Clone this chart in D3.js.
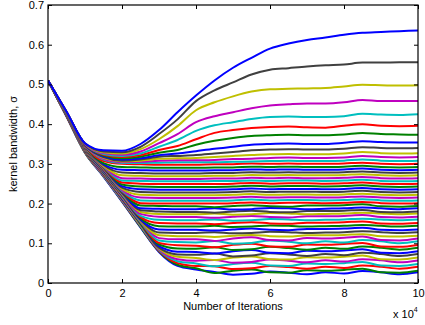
<!DOCTYPE html>
<html>
<head>
<meta charset="utf-8">
<script src="https://cdn.jsdelivr.net/npm/d3@7"></script>
<style>
  body { margin: 0; background: #fff; }
  text { font-family: "Liberation Sans", Arial, sans-serif; }
</style>
</head>
<body>
<div id="chart"></div>
<script>
// iterations, in units of 10^4
const iterations = [0, 0.5, 1, 1.5, 2, 2.5, 3, 3.5, 4, 4.5, 5, 5.5, 6, 6.5, 7, 7.5, 8, 8.5, 9, 9.5, 10];

// kernel bandwidth curves, listed from the top curve to the bottom one
const sigmaCurves = [
  [.51,.432,.352,.334,.333,.350,.385,.430,.472,.510,.542,.567,.590,.603,.612,.618,.625,.630,.632,.634,.636],
  [.51,.431,.351,.331,.329,.343,.375,.412,.458,.485,.505,.525,.537,.541,.545,.548,.550,.555,.555,.556,.556],
  [.51,.431,.351,.329,.326,.337,.362,.395,.435,.455,.470,.482,.488,.489,.490,.491,.495,.499,.498,.497,.498],
  [.51,.431,.350,.327,.323,.331,.352,.375,.405,.420,.430,.440,.447,.450,.452,.452,.455,.461,.458,.458,.458],
  [.51,.430,.350,.325,.320,.326,.343,.360,.383,.397,.405,.413,.418,.419,.418,.418,.420,.426,.424,.423,.425],
  [.51,.430,.349,.323,.317,.322,.335,.345,.362,.378,.385,.390,.393,.394,.392,.391,.396,.400,.396,.395,.396],
  [.51,.430,.349,.321,.314,.318,.328,.335,.348,.358,.365,.370,.372,.373,.372,.372,.374,.378,.375,.374,.373],
  [.51,.430,.348,.319,.311,.314,.322,.326,.332,.338,.343,.348,.350,.351,.350,.350,.353,.357,.355,.354,.354],
  [.51,.429,.348,.317,.308,.311,.318,.320,.322,.326,.330,.334,.336,.337,.336,.336,.338,.342,.340,.339,.340],
  [.51,.429,.347,.315,.306,.308,.313,.314,.315,.317,.320,.322,.324,.325,.324,.324,.326,.330,.327,.326,.327],
  [.51,.429,.347,.313,.304,.305,.308,.309,.309,.310,.312,.313,.315,.316,.315,.315,.316,.320,.317,.316,.317],
  [.51,.429,.347,.311,.302,.302,.303,.304,.304,.304,.305,.306,.307,.308,.307,.307,.308,.311,.308,.307,.308],
  [.51,.429,.346,.307,.300,.299,.298,.298,.298,.299,.299,.301,.300,.301,.300,.300,.301,.303,.300,.299,.300],
  [.51,.429,.346,.302,.292,.291,.290,.290,.290,.291,.291,.293,.292,.293,.292,.292,.293,.295,.292,.291,.292],
  [.51,.429,.345,.299,.285,.284,.283,.283,.283,.284,.284,.286,.285,.286,.285,.285,.286,.288,.285,.284,.285],
  [.51,.428,.345,.297,.278,.277,.276,.276,.276,.277,.277,.279,.278,.279,.278,.278,.279,.281,.278,.277,.278],
  [.51,.428,.344,.295,.271,.270,.269,.269,.269,.270,.270,.272,.271,.272,.271,.271,.272,.274,.271,.270,.271],
  [.51,.428,.344,.294,.264,.263,.262,.262,.262,.263,.263,.265,.264,.265,.264,.264,.265,.267,.264,.263,.264],
  [.51,.428,.343,.293,.258,.257,.256,.256,.256,.257,.257,.258,.257,.258,.258,.257,.258,.260,.257,.256,.257],
  [.51,.427,.343,.292,.253,.250,.249,.249,.249,.249,.250,.252,.250,.251,.251,.250,.251,.253,.250,.249,.250],
  [.51,.427,.342,.292,.248,.243,.242,.242,.242,.242,.243,.245,.243,.244,.244,.243,.244,.246,.243,.242,.243],
  [.51,.427,.342,.291,.244,.236,.235,.235,.235,.235,.236,.238,.236,.237,.237,.236,.237,.239,.236,.235,.236],
  [.51,.427,.341,.290,.240,.229,.228,.228,.228,.228,.229,.231,.229,.230,.230,.229,.230,.232,.229,.228,.229],
  [.51,.426,.341,.289,.237,.222,.221,.221,.221,.221,.222,.224,.222,.223,.223,.222,.223,.225,.222,.221,.222],
  [.51,.426,.340,.288,.234,.215,.214,.214,.214,.214,.215,.217,.215,.216,.216,.215,.216,.218,.215,.214,.215],
  [.51,.426,.340,.288,.232,.208,.207,.207,.207,.207,.208,.210,.208,.209,.209,.208,.209,.211,.208,.207,.208],
  [.51,.426,.339,.287,.231,.201,.200,.200,.200,.200,.201,.203,.201,.202,.202,.201,.202,.204,.201,.200,.201],
  [.51,.425,.339,.286,.230,.195,.194,.193,.193,.191,.194,.196,.193,.192,.195,.195,.196,.198,.193,.192,.194],
  [.51,.425,.338,.285,.229,.188,.187,.186,.186,.188,.185,.186,.189,.188,.186,.187,.188,.190,.188,.186,.188],
  [.51,.425,.338,.284,.227,.183,.180,.179,.179,.177,.180,.182,.179,.178,.181,.181,.182,.184,.179,.178,.180],
  [.51,.425,.337,.284,.226,.179,.174,.173,.173,.175,.172,.173,.176,.175,.173,.174,.175,.177,.175,.173,.175],
  [.51,.424,.337,.283,.225,.174,.167,.166,.166,.164,.167,.169,.166,.165,.168,.168,.169,.171,.166,.165,.167],
  [.51,.424,.336,.282,.224,.169,.159,.158,.158,.160,.157,.158,.161,.160,.158,.159,.160,.162,.160,.158,.160],
  [.51,.424,.336,.281,.223,.166,.151,.150,.150,.148,.151,.153,.150,.149,.152,.152,.153,.155,.150,.149,.151],
  [.51,.424,.335,.280,.222,.163,.143,.142,.142,.144,.141,.142,.145,.144,.142,.143,.144,.146,.144,.142,.144],
  [.51,.423,.335,.279,.221,.160,.135,.134,.134,.132,.135,.137,.134,.133,.136,.136,.137,.139,.134,.133,.135],
  [.51,.423,.334,.279,.220,.159,.127,.126,.126,.128,.125,.126,.129,.128,.126,.127,.128,.130,.128,.126,.128],
  [.51,.423,.334,.278,.219,.157,.120,.118,.118,.116,.119,.121,.118,.117,.120,.120,.121,.123,.118,.117,.119],
  [.51,.423,.333,.277,.217,.156,.113,.110,.110,.106,.112,.115,.108,.107,.113,.112,.114,.117,.108,.107,.112],
  [.51,.422,.333,.276,.216,.154,.107,.103,.102,.106,.099,.101,.107,.104,.100,.105,.102,.108,.105,.100,.105],
  [.51,.422,.332,.275,.215,.153,.101,.095,.094,.090,.096,.099,.092,.091,.097,.096,.098,.101,.092,.091,.096],
  [.51,.422,.332,.275,.214,.151,.097,.087,.086,.090,.083,.085,.091,.088,.084,.089,.086,.092,.089,.084,.089],
  [.51,.422,.331,.274,.213,.150,.093,.079,.078,.074,.080,.083,.076,.075,.081,.080,.082,.085,.076,.075,.080],
  [.51,.421,.331,.273,.212,.149,.089,.072,.071,.074,.067,.069,.075,.072,.068,.073,.070,.076,.073,.068,.073],
  [.51,.421,.330,.272,.211,.147,.087,.066,.063,.058,.064,.067,.060,.059,.065,.064,.066,.069,.060,.059,.064],
  [.51,.421,.330,.271,.210,.146,.085,.060,.056,.058,.051,.053,.059,.056,.052,.057,.054,.060,.057,.052,.057],
  [.51,.421,.329,.270,.208,.144,.083,.055,.049,.042,.048,.051,.044,.043,.049,.048,.050,.053,.044,.043,.048],
  [.51,.420,.329,.270,.207,.143,.081,.050,.043,.042,.035,.037,.043,.040,.036,.041,.038,.044,.041,.036,.041],
  [.51,.420,.328,.269,.206,.141,.080,.046,.037,.025,.031,.034,.027,.026,.032,.031,.033,.036,.027,.026,.031],
  [.51,.420,.328,.268,.205,.140,.078,.043,.034,.028,.021,.023,.029,.026,.022,.027,.024,.030,.027,.022,.027]
];

// colour of each curve, cycling from the top curve down
const colorCycle = ["#0000ff", "#404040", "#bfbf00", "#bf00bf", "#00bfbf", "#ff0000", "#008000"];

const xTicks = [0, 2, 4, 6, 8, 10];
const yTicks = [0, 0.1, 0.2, 0.3, 0.4, 0.5, 0.6, 0.7];

const W = 425, H = 325;
const margin = {left: 48, right: 7, top: 5, bottom: 42};
const width = W - margin.left - margin.right;
const height = H - margin.top - margin.bottom;

const svg = d3.select("#chart").append("svg")
  .attr("width", W)
  .attr("height", H);

const g = svg.append("g")
  .attr("transform", "translate(" + margin.left + "," + margin.top + ")");

const x = d3.scaleLinear().domain([0, 10]).range([0, width]);
const y = d3.scaleLinear().domain([0, 0.7]).range([height, 0]);

g.append("clipPath").attr("id", "clip")
  .append("rect").attr("width", width).attr("height", height);

const line = d3.line()
  .x((d, i) => x(iterations[i]))
  .y(d => y(d))
  .curve(d3.curveMonotoneX);

// draw bottom curve first so upper curves lie on top
const curves = sigmaCurves.map((vals, i) => ({vals: vals, color: colorCycle[i % colorCycle.length]}));
g.append("g").attr("clip-path", "url(#clip)")
  .selectAll("path")
  .data(curves.slice().reverse())
  .enter()
  .append("path")
  .attr("d", d => line(d.vals))
  .attr("fill", "none")
  .attr("stroke", d => d.color)
  .attr("stroke-width", 2)
  .attr("stroke-linejoin", "round");

// axes, ticks pointing inward
const fmt = d3.format("~g");
g.append("g")
  .attr("transform", "translate(0," + height + ")")
  .call(d3.axisBottom(x).tickValues(xTicks).tickSize(-4).tickPadding(6).tickFormat(fmt));
g.append("g")
  .call(d3.axisLeft(y).tickValues(yTicks).tickSize(-4).tickPadding(4).tickFormat(fmt));
g.append("g")
  .call(d3.axisTop(x).tickValues(xTicks).tickSize(-4).tickFormat(""));
g.append("g")
  .attr("transform", "translate(" + width + ",0)")
  .call(d3.axisRight(y).tickValues(yTicks).tickSize(-4).tickFormat(""));

g.selectAll(".domain").remove();
g.selectAll(".tick line").attr("stroke", "#000");
g.selectAll(".tick text")
  .attr("fill", "#000")
  .style("font-size", "11px")
  .style("font-family", "'Liberation Sans', Arial, sans-serif");

g.append("rect")
  .attr("width", width)
  .attr("height", height)
  .attr("fill", "none")
  .attr("stroke", "#000")
  .attr("stroke-width", 1.2);

// labels
svg.append("text")
  .attr("x", margin.left + width / 2)
  .attr("y", 310)
  .attr("text-anchor", "middle")
  .style("font-size", "11px")
  .text("Number of Iterations");

svg.append("text")
  .attr("transform", "translate(17," + (margin.top + height / 2) + ") rotate(-90)")
  .attr("text-anchor", "middle")
  .style("font-size", "11px")
  .text("kernel bandwidth, σ");

const mult = svg.append("text")
  .attr("x", 393)
  .attr("y", 318)
  .style("font-size", "11px");
mult.append("tspan").text("x 10");
mult.append("tspan").attr("dy", -6).style("font-size", "7px").text("4");
</script>
</body>
</html>
